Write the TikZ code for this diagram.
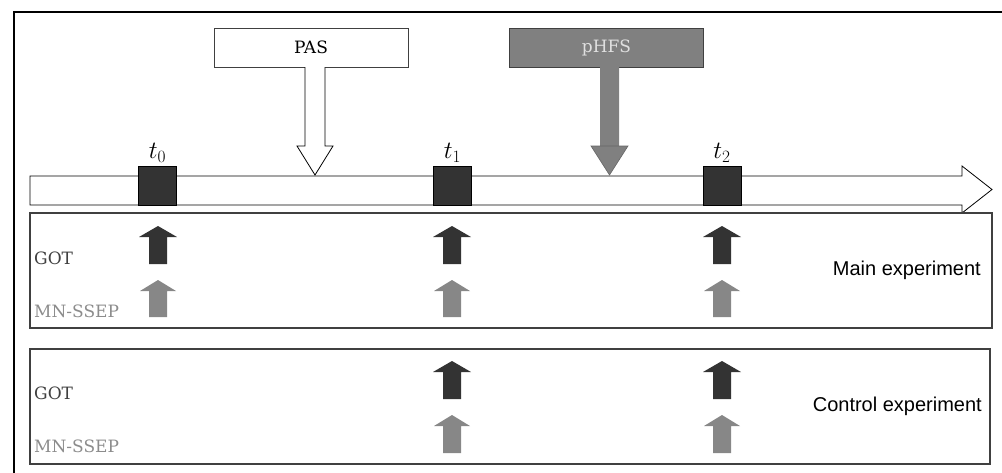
\documentclass[tikz,border=0pt]{standalone}
\usepackage{fontspec}
\usetikzlibrary{positioning,calc}
\newfontfamily\slabfont{DejaVu Serif}
\newfontfamily\armfont{Liberation Sans}

\begin{document}
\begin{tikzpicture}[x=1pt,y=-1pt,
		stimbox/.style={draw=black!75,line width=1pt,minimum width=194pt,minimum height=39pt,inner sep=0pt,font=\slabfont\fontsize{17}{20}\selectfont},
		tick/.style={draw=black,line width=0.8pt,fill=black!80,minimum width=38pt,minimum height=39pt,inner sep=0pt},
		tlabel/.style={inner sep=0pt,font=\fontsize{23}{25}\selectfont},
		rowlabel/.style={anchor=west,inner sep=0pt,font=\slabfont\fontsize{17}{20}\selectfont},
		explabel/.style={anchor=east,inner sep=0pt,font=\armfont\fontsize{20}{24}\selectfont},
		expbox/.style={draw=black!75,line width=1.2pt}]
			\useasboundingbox (0,0) rectangle (1002,472);
			\begin{scope}
				% frame
				\draw[line width=2pt] (14,480) -- (14,12) -- (1010,12);
				% time axis
				\draw[line width=0.8pt,fill=white] (30,176) -- (962,176) -- (962,166) -- (992,189.5)
					-- (962,213) -- (962,205) -- (30,205) -- cycle;
				\node[tick] (t0) at (157.5,185.5) {};
				\node[tick] (t1) at (452.5,185.5) {};
				\node[tick] (t2) at (722,185.5) {};
				\node[tlabel,above=3pt of t0] (t0l) {$t_0$};
				\node[tlabel,above=3pt of t1] (t1l) {$t_1$};
				\node[tlabel,above=3pt of t2] (t2l) {$t_2$};
				% stimulation
				\node[stimbox,fill=white] (pas) at (311,47.5) {PAS};
				\node[stimbox,fill=black!50,text=black!12] (phfs) at (606.5,47.5) {pHFS};
				\draw[line width=0.8pt,fill=white] (305,67) -- (305,146) -- (297,146) -- (315,175)
					-- (333,146) -- (325,146) -- (325,67);
				\fill[black!50] (600,67) -- (600,146) -- (591,146) -- (609.5,175)
					-- (628,146) -- (619,146) -- (619,67) -- cycle;
				\draw[black!60,line width=0.6pt] (591,146) -- (609.5,175) -- (628,146) -- cycle;
				% experiments
				\draw[expbox] (30,213) rectangle (992,328);
				\draw[expbox] (30,349) rectangle (990,464);
				\node[rowlabel,text=black!75] (got1) at (34,258) {GOT};
				\node[rowlabel,text=black!45] (ssep1) at (34,311) {MN-SSEP};
				\node[rowlabel,text=black!75] (got2) at (34,393) {GOT};
				\node[rowlabel,text=black!45] (ssep2) at (34,446) {MN-SSEP};
				\node[explabel] (mainl) at (981,270) {Main experiment};
				\node[explabel] (ctrll) at (982,406) {Control experiment};
				\foreach \cx in {158,452,722} {
					\fill[black!80] (\cx-9,264) -- (\cx-9,237) -- (\cx-19,237) -- (\cx,226)
						-- (\cx+19,237) -- (\cx+9,237) -- (\cx+9,264) -- cycle;
					\fill[black!47] (\cx-9,317) -- (\cx-9,291) -- (\cx-18,291) -- (\cx,280)
						-- (\cx+18,291) -- (\cx+9,291) -- (\cx+9,317) -- cycle;
				}
				\foreach \cx in {452,722} {
					\fill[black!80] (\cx-9,399) -- (\cx-9,372) -- (\cx-19,372) -- (\cx,361)
						-- (\cx+19,372) -- (\cx+9,372) -- (\cx+9,399) -- cycle;
					\fill[black!47] (\cx-9,453) -- (\cx-9,426) -- (\cx-18,426) -- (\cx,415)
						-- (\cx+18,426) -- (\cx+9,426) -- (\cx+9,453) -- cycle;
				}
			\end{scope}
		\end{tikzpicture}
\end{document}
